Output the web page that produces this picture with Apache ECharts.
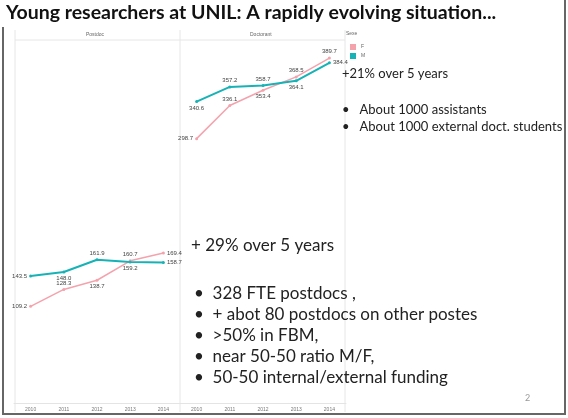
<!DOCTYPE html>
<html>
<head>
<meta charset="utf-8">
<script src="https://cdn.jsdelivr.net/npm/echarts@6/dist/echarts.min.js"></script>
<style>
  html, body { margin: 0; padding: 0; background: #fff; }
  #main { width: 568px; height: 418px; }
</style>
</head>
<body>
<div id="main"></div>
<script>
let years = ['2010', '2011', '2012', '2013', '2014']
let postdocF = [109.2, 128.3, 138.7, 160.7, 169.4]
let postdocM = [143.5, 148.0, 161.9, 159.2, 158.7]
let doctorantF = [298.7, 336.1, 353.4, 368.5, 389.7]
let doctorantM = [340.6, 357.2, 358.7, 364.1, 384.4]

let pink = '#f4a3ad'
let teal = '#17b2b5'
let font = 'Lato'

// where Tableau put each value label
let posPF = ['left', 'top', 'bottom', 'top', 'right']
let posPM = ['left', 'bottom', 'top', 'bottom', 'right']
let posDF = ['left', 'top', 'bottom', 'top', 'top']
let posDM = ['bottom', 'top', 'top', 'bottom', 'right']

function withLabels(values, pos) {
    return values.map((v, i) => ({ value: v, label: { position: pos[i] } }))
}

function line(name, values, pos, idx, color, width) {
    return {
        name: name,
        type: 'line',
        xAxisIndex: idx,
        yAxisIndex: idx,
        data: withLabels(values, pos),
        symbol: 'circle',
        symbolSize: 3,
        lineStyle: { color: color, width: width },
        itemStyle: { color: color },
        label: {
            show: true, fontSize: 6, color: '#444', fontFamily: 'Liberation Sans', distance: 2,
            formatter: p => p.value.toFixed(1)
        }
    }
}

let myChart = echarts.init(document.getElementById('main'))

let xAxisStyle = {
    type: 'category',
    data: years,
    axisLine: { lineStyle: { color: '#e4e4e4' } },
    axisTick: { show: false },
    axisLabel: { fontSize: 5, color: '#777', margin: 4, fontFamily: 'Liberation Sans' }
}
let yAxisStyle = { type: 'value', min: 0, max: 400, show: false }

let option = {
    backgroundColor: '#fff',
    animation: false,
    grid: [
        { left: 14, width: 166, top: 49, bottom: 15 },
        { left: 180, width: 166, top: 49, bottom: 15 }
    ],
    xAxis: [
        Object.assign({ gridIndex: 0 }, xAxisStyle),
        Object.assign({ gridIndex: 1 }, xAxisStyle)
    ],
    yAxis: [
        Object.assign({ gridIndex: 0 }, yAxisStyle),
        Object.assign({ gridIndex: 1 }, yAxisStyle)
    ],
    legend: {
        data: ['F', 'M'],
        orient: 'vertical',
        left: 345,
        top: 39,
        icon: 'rect',
        itemWidth: 6,
        itemHeight: 6,
        itemGap: 3,
        textStyle: { fontSize: 5, color: '#666' }
    },
    series: [
        line('F', postdocF, posPF, 0, pink, 1.5),
        line('M', postdocM, posPM, 0, teal, 2),
        line('F', doctorantF, posDF, 1, pink, 1.5),
        line('M', doctorantM, posDM, 1, teal, 2)
    ],
    graphic: [
        // slide frame
        { type: 'polyline', shape: { points: [[3, 27], [3, 414], [565, 414], [565, 0]] }, style: { stroke: '#666', lineWidth: 2, fill: null } },
        // panel lines
        { type: 'line', shape: { x1: 15, y1: 30, x2: 15, y2: 412 }, style: { stroke: '#e6e6e6', lineWidth: 1 } },
        { type: 'line', shape: { x1: 180, y1: 30, x2: 180, y2: 412 }, style: { stroke: '#e6e6e6', lineWidth: 1 } },
        { type: 'line', shape: { x1: 345, y1: 30, x2: 345, y2: 412 }, style: { stroke: '#e6e6e6', lineWidth: 1 } },
        { type: 'line', shape: { x1: 15, y1: 40, x2: 345, y2: 40 }, style: { stroke: '#e6e6e6', lineWidth: 1 } },
        { type: 'text', left: 86, top: 32, style: { text: 'Postdoc', fontSize: 5, fill: '#666', font: '5px Liberation Sans' } },
        { type: 'text', left: 250, top: 32, style: { text: 'Doctorant', fontSize: 5, fill: '#666', font: '5px Liberation Sans' } },
        { type: 'text', left: 346, top: 31, style: { text: 'Sexe', fontSize: 5, fill: '#666', font: '5px Liberation Sans' } },
        // slide text
        { type: 'text', left: 6, top: 3, style: { text: 'Young researchers at UNIL: A rapidly evolving situation...', font: 'bold 19.5px ' + font, fill: '#111' } },
        { type: 'text', left: 342, top: 67, style: { text: '+21% over 5 years', font: '13px ' + font, fill: '#222' } },
        { type: 'text', left: 342, top: 101, style: { text: '•   About 1000 assistants\n•   About 1000 external doct. students', font: '13px ' + font, fill: '#222', lineHeight: 17 } },
        { type: 'text', left: 191, top: 237, style: { text: '+ 29% over 5 years', font: '17px ' + font, fill: '#222' } },
        { type: 'text', left: 194, top: 283, style: { text: '•  328 FTE postdocs ,\n•  + abot 80 postdocs on other postes\n•  >50% in FBM,\n•  near 50-50 ratio M/F,\n•  50-50 internal/external funding', font: '17px ' + font, fill: '#222', lineHeight: 21 } },
        { type: 'text', left: 525, top: 394, style: { text: '2', font: '9px ' + font, fill: '#999' } }
    ]
}

myChart.setOption(option)
</script>
</body>
</html>
